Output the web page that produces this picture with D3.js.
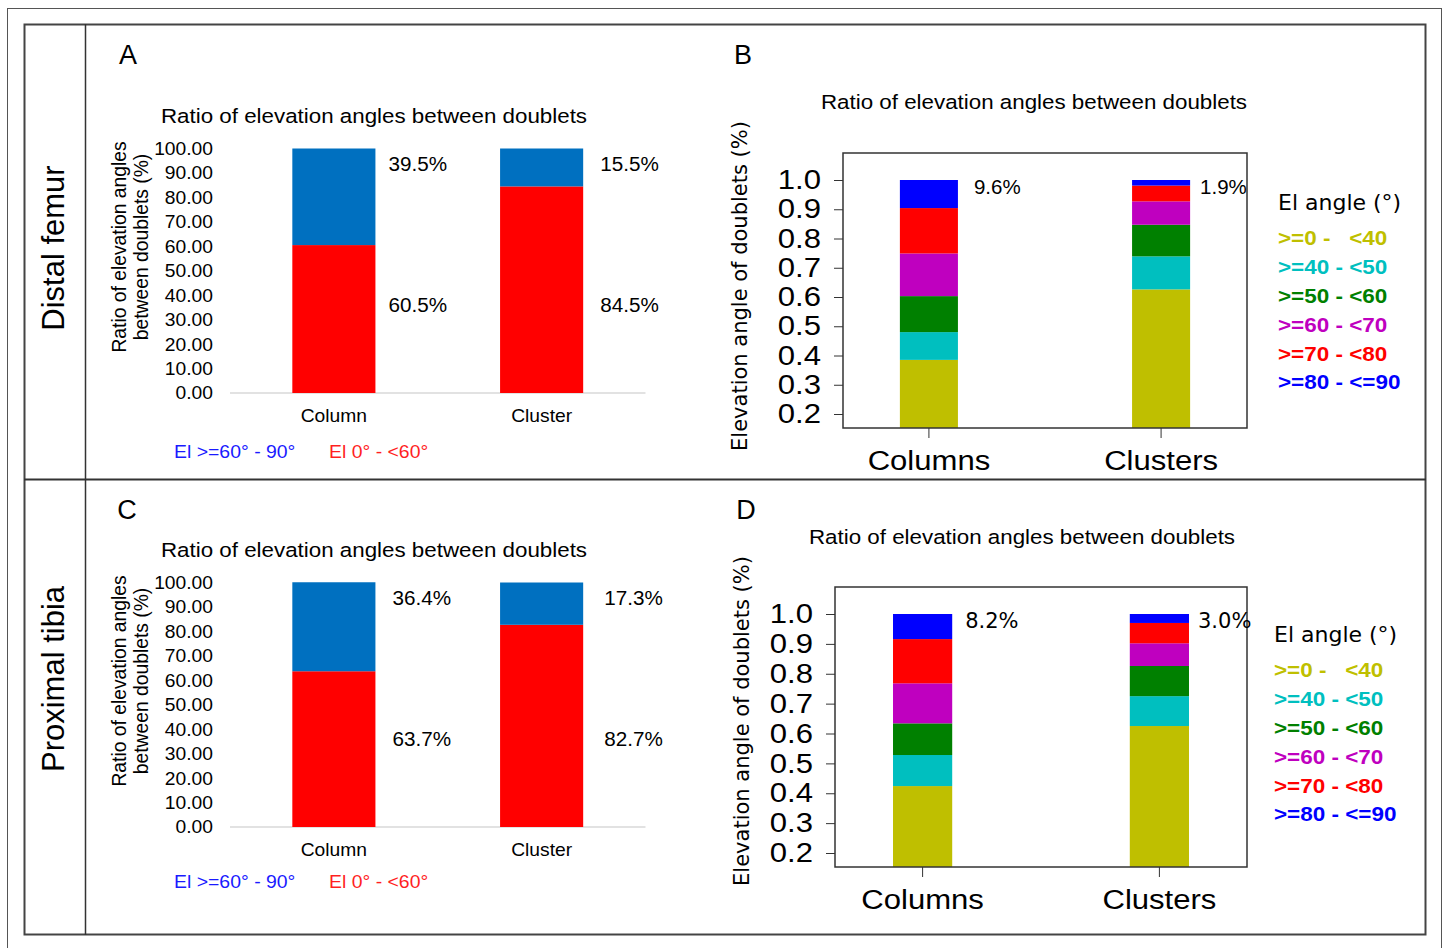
<!DOCTYPE html>
<html lang="en">
<head>
<meta charset="UTF-8">
<title>Ratio of elevation angles between doublets</title>
<script src="https://d3js.org/d3.v7.min.js"></script>
<style>
    body { margin: 0; background: #fff; }
    svg { display: block; }
    .arial { font-family: 'Liberation Sans', Arial, sans-serif; }
    .dejavu { font-family: 'DejaVu Sans', sans-serif; }
</style>
</head>
<body>
<div id="chart"></div>
<script>
// panels A and C: two classes of elevation angle
const groups = ["Column", "Cluster"];
const femurHigh = [39.5, 15.5];
const femurLow = [60.5, 84.5];
const tibiaHigh = [36.4, 17.3];
const tibiaLow = [63.7, 82.7];
const ratioTicks = [0, 10, 20, 30, 40, 50, 60, 70, 80, 90, 100];

// panels B and D: six angle bins
const binGroups = ["Columns", "Clusters"];
const binLabels = [">=0 -   <40", ">=40 - <50", ">=50 - <60", ">=60 - <70", ">=70 - <80", ">=80 - <=90"];
const femurColumns = [0.385, 0.095, 0.123, 0.146, 0.155, 0.096];
const femurClusters = [0.626, 0.113, 0.108, 0.080, 0.054, 0.019];
const tibiaColumns = [0.424, 0.104, 0.106, 0.134, 0.148, 0.084];
const tibiaClusters = [0.625, 0.100, 0.101, 0.076, 0.068, 0.030];
const femurTopLabels = ["9.6%", "1.9%"];
const tibiaTopLabels = ["8.2%", "3.0%"];
const binTicks = [0.2, 0.3, 0.4, 0.5, 0.6, 0.7, 0.8, 0.9, 1.0];

const binColors = ["#bfbf00", "#00bfbf", "#008000", "#bf00bf", "#ff0000", "#0000ff"];

const svg = d3.select("#chart").append("svg")
    .attr("width", 1444)
    .attr("height", 948);

svg.append("rect").attr("width", 1444).attr("height", 948).attr("fill", "#fff");

// the original figure is a bit wider than its fonts, so stretch text sideways
function stretch(sel, k) {
    sel.each(function() {
        const w = this.getComputedTextLength();
        d3.select(this).attr("textLength", w * k).attr("lengthAdjust", "spacingAndGlyphs");
    });
}

// frame
svg.append("rect")
    .attr("x", 7.5).attr("y", 8.5).attr("width", 1434).attr("height", 960)
    .attr("fill", "none").attr("stroke", "#555").attr("stroke-width", 1);
svg.append("rect")
    .attr("x", 24.5).attr("y", 24.5).attr("width", 1401).attr("height", 910)
    .attr("fill", "none").attr("stroke", "#444").attr("stroke-width", 2);
svg.append("line")
    .attr("x1", 85.5).attr("x2", 85.5).attr("y1", 24).attr("y2", 935)
    .attr("stroke", "#333").attr("stroke-width", 1.5);
svg.append("line")
    .attr("x1", 24).attr("x2", 1426).attr("y1", 479.5).attr("y2", 479.5)
    .attr("stroke", "#333").attr("stroke-width", 2);

// row labels
[["Distal femur", 248], ["Proximal tibia", 679]].forEach(([t, cy]) => {
    svg.append("text")
        .attr("class", "arial")
        .attr("transform", `translate(53,${cy}) rotate(-90)`)
        .attr("text-anchor", "middle")
        .attr("dy", "0.35em")
        .style("font-size", "31px")
        .text(t);
});

function panelLetter(t, x, y) {
    svg.append("text")
        .attr("class", "arial")
        .attr("x", x).attr("y", y)
        .attr("text-anchor", "middle")
        .attr("dy", "0.35em")
        .style("font-size", "27px")
        .text(t);
}

function drawRatio(opt) {
    const g = svg.append("g").attr("class", "arial");
    const y = d3.scaleLinear().domain([0, 100]).range([opt.base, opt.base - 244.5]);
    const x = d3.scaleBand().domain(groups).range([230, 645.5]).paddingInner(0.6).paddingOuter(0.3);

    const rows = groups.map((d, i) => ({group: d, low: opt.low[i], high: opt.high[i]}));
    const layers = d3.stack().keys(["low", "high"])(rows);

    g.append("line")
        .attr("x1", 230).attr("x2", 645.5)
        .attr("y1", y(0)).attr("y2", y(0))
        .attr("stroke", "#d9d9d9").attr("stroke-width", 1.5);

    g.selectAll("g.layer")
        .data(layers)
        .join("g")
        .attr("class", "layer")
        .attr("fill", d => d.key === "low" ? "#ff0000" : "#0070c0")
        .selectAll("rect")
        .data(d => d)
        .join("rect")
        .attr("x", d => x(d.data.group))
        .attr("width", x.bandwidth())
        .attr("y", d => y(d[1]))
        .attr("height", d => y(d[0]) - y(d[1]));

    const axis = g.append("g")
        .attr("transform", "translate(230,0)")
        .call(d3.axisLeft(y).tickValues(ratioTicks).tickSize(0).tickPadding(17).tickFormat(d3.format(".2f")));
    axis.select(".domain").remove();
    axis.selectAll("text").attr("font-family", null).style("font-size", "18.5px").attr("fill", "#000");
    stretch(axis.selectAll("text"), 1.04);

    const fmt = v => d3.format(".1f")(v) + "%";
    groups.forEach((grp, i) => {
        const lx = x(grp) + x.bandwidth() + opt.dx[i];
        g.append("text").attr("class", "val").attr("x", lx).attr("y", y(93.5)).attr("dy", "0.35em")
            .style("font-size", "19.5px").text(fmt(opt.high[i]));
        g.append("text").attr("class", "val").attr("x", lx).attr("y", y(36)).attr("dy", "0.35em")
            .style("font-size", "19.5px").text(fmt(opt.low[i]));
        g.append("text").attr("class", "cat").attr("x", x(grp) + x.bandwidth() / 2).attr("y", opt.base + 22.5)
            .attr("dy", "0.35em").attr("text-anchor", "middle")
            .style("font-size", "18.5px").text(grp);
    });
    stretch(g.selectAll("text.val"), 1.06);
    stretch(g.selectAll("text.cat"), 1.04);

    const title = g.append("text")
        .attr("x", 374).attr("y", opt.base - 277)
        .attr("dy", "0.35em").attr("text-anchor", "middle")
        .style("font-size", "20.5px")
        .text("Ratio of elevation angles between doublets");
    stretch(title, 1.09);

    const yl = g.append("g").attr("transform", `translate(119,${opt.base - 146}) rotate(-90)`);
    yl.append("text").attr("text-anchor", "middle").attr("dy", "0.35em")
        .style("font-size", "19.3px").text("Ratio of elevation angles");
    yl.append("text").attr("text-anchor", "middle").attr("y", 22).attr("dy", "0.35em")
        .style("font-size", "19.3px").text("between doublets (%)");

    const l1 = g.append("text").attr("x", 174).attr("y", opt.legendY).attr("dy", "0.35em")
        .style("font-size", "18.5px").attr("fill", "#1a1aff").text("El >=60° - 90°");
    const l2 = g.append("text").attr("x", 329).attr("y", opt.legendY).attr("dy", "0.35em")
        .style("font-size", "18.5px").attr("fill", "#ff1f1f").text("El 0° - <60°");
    stretch(l1, 1.05);
    stretch(l2, 1.05);
}

function drawBins(opt) {
    const g = svg.append("g").attr("class", "dejavu");
    const b = opt.box;
    const y = d3.scaleLinear().domain([0.2, 1.0]).range([opt.yLow, opt.yHigh]);
    const x = d3.scaleBand().domain(binGroups).range([b.x0, b.x1]).paddingInner(0.75).paddingOuter(0.245);

    const rows = binGroups.map((grp, i) => {
        const r = {group: grp};
        binLabels.forEach((k, j) => { r[k] = opt.values[i][j]; });
        return r;
    });
    const layers = d3.stack().keys(binLabels)(rows);

    const clipId = "clip" + opt.id;
    svg.append("clipPath").attr("id", clipId)
        .append("rect").attr("x", b.x0).attr("y", b.y0).attr("width", b.x1 - b.x0).attr("height", b.y1 - b.y0);

    g.append("g").attr("clip-path", `url(#${clipId})`)
        .selectAll("g")
        .data(layers)
        .join("g")
        .attr("fill", (d, i) => binColors[i])
        .selectAll("rect")
        .data(d => d)
        .join("rect")
        .attr("x", d => x(d.data.group))
        .attr("width", x.bandwidth())
        .attr("y", d => y(d[1]))
        .attr("height", d => y(d[0]) - y(d[1]));

    g.append("rect")
        .attr("x", b.x0).attr("y", b.y0)
        .attr("width", b.x1 - b.x0).attr("height", b.y1 - b.y0)
        .attr("fill", "none").attr("stroke", "#333").attr("stroke-width", 1.5);

    const ya = g.append("g")
        .attr("transform", `translate(${b.x0},0)`)
        .call(d3.axisLeft(y).tickValues(binTicks).tickSize(9).tickPadding(13).tickFormat(d3.format(".1f")));
    ya.select(".domain").remove();
    ya.selectAll("line").attr("stroke", "#333");
    ya.selectAll("text").attr("font-family", null).style("font-size", "27px").attr("fill", "#000");
    stretch(ya.selectAll("text"), 1.15);

    const xa = g.append("g")
        .attr("transform", `translate(0,${b.y1})`)
        .call(d3.axisBottom(x).tickSize(10).tickPadding(13));
    xa.select(".domain").remove();
    xa.selectAll("line").attr("stroke", "#333");
    xa.selectAll("text").attr("font-family", null).style("font-size", "27px").attr("fill", "#000");
    stretch(xa.selectAll("text"), 1.15);

    binGroups.forEach((grp, i) => {
        g.append("text")
            .attr("class", opt.labelClass)
            .attr("x", x(grp) + x.bandwidth() + opt.dx[i])
            .attr("y", y(1.0) + 7)
            .attr("dy", "0.35em")
            .style("font-size", opt.labelSize)
            .text(opt.topLabels[i]);
    });

    const title = g.append("text")
        .attr("class", "arial")
        .attr("x", opt.titleX).attr("y", opt.titleY)
        .attr("dy", "0.35em").attr("text-anchor", "middle")
        .style("font-size", "20.5px")
        .text("Ratio of elevation angles between doublets");
    stretch(title, 1.09);

    g.append("text")
        .attr("transform", `translate(${opt.ylabX},${opt.ylabY}) rotate(-90)`)
        .attr("text-anchor", "middle").attr("dy", "0.35em")
        .style("font-size", "21px")
        .text("Elevation angle of doublets (%)");

    g.append("text")
        .attr("x", opt.legX).attr("y", opt.legY)
        .attr("dy", "0.35em")
        .style("font-size", "22px")
        .text("El angle (°)");

    const items = g.selectAll("text.bin")
        .data(binLabels)
        .join("text")
        .attr("class", "bin arial")
        .attr("x", opt.legX)
        .attr("y", (d, i) => opt.legY + 36 + i * 28.8)
        .attr("dy", "0.35em")
        .attr("fill", (d, i) => binColors[i])
        .style("font-size", "21px")
        .style("font-weight", "bold")
        .style("white-space", "pre")
        .text(d => d);
    stretch(items, 1.07);
}

panelLetter("A", 128, 55);
panelLetter("B", 743, 55);
panelLetter("C", 127, 510);
panelLetter("D", 746, 510);

drawRatio({base: 393, high: femurHigh, low: femurLow, dx: [13, 17], legendY: 452});
drawRatio({base: 827, high: tibiaHigh, low: tibiaLow, dx: [17, 21], legendY: 882});

drawBins({
    id: "B",
    box: {x0: 843, x1: 1247, y0: 153, y1: 428},
    yHigh: 180, yLow: 414,
    values: [femurColumns, femurClusters],
    topLabels: femurTopLabels,
    dx: [16, 10], labelClass: "arial", labelSize: "20.5px",
    titleX: 1034, titleY: 102,
    ylabX: 740, ylabY: 286,
    legX: 1278, legY: 202
});
drawBins({
    id: "D",
    box: {x0: 835, x1: 1247, y0: 587, y1: 867},
    yHigh: 614, yLow: 853,
    values: [tibiaColumns, tibiaClusters],
    topLabels: tibiaTopLabels,
    dx: [13, 9], labelClass: "dejavu", labelSize: "21px",
    titleX: 1022, titleY: 537,
    ylabX: 742, ylabY: 721,
    legX: 1274, legY: 634
});
</script>
</body>
</html>
